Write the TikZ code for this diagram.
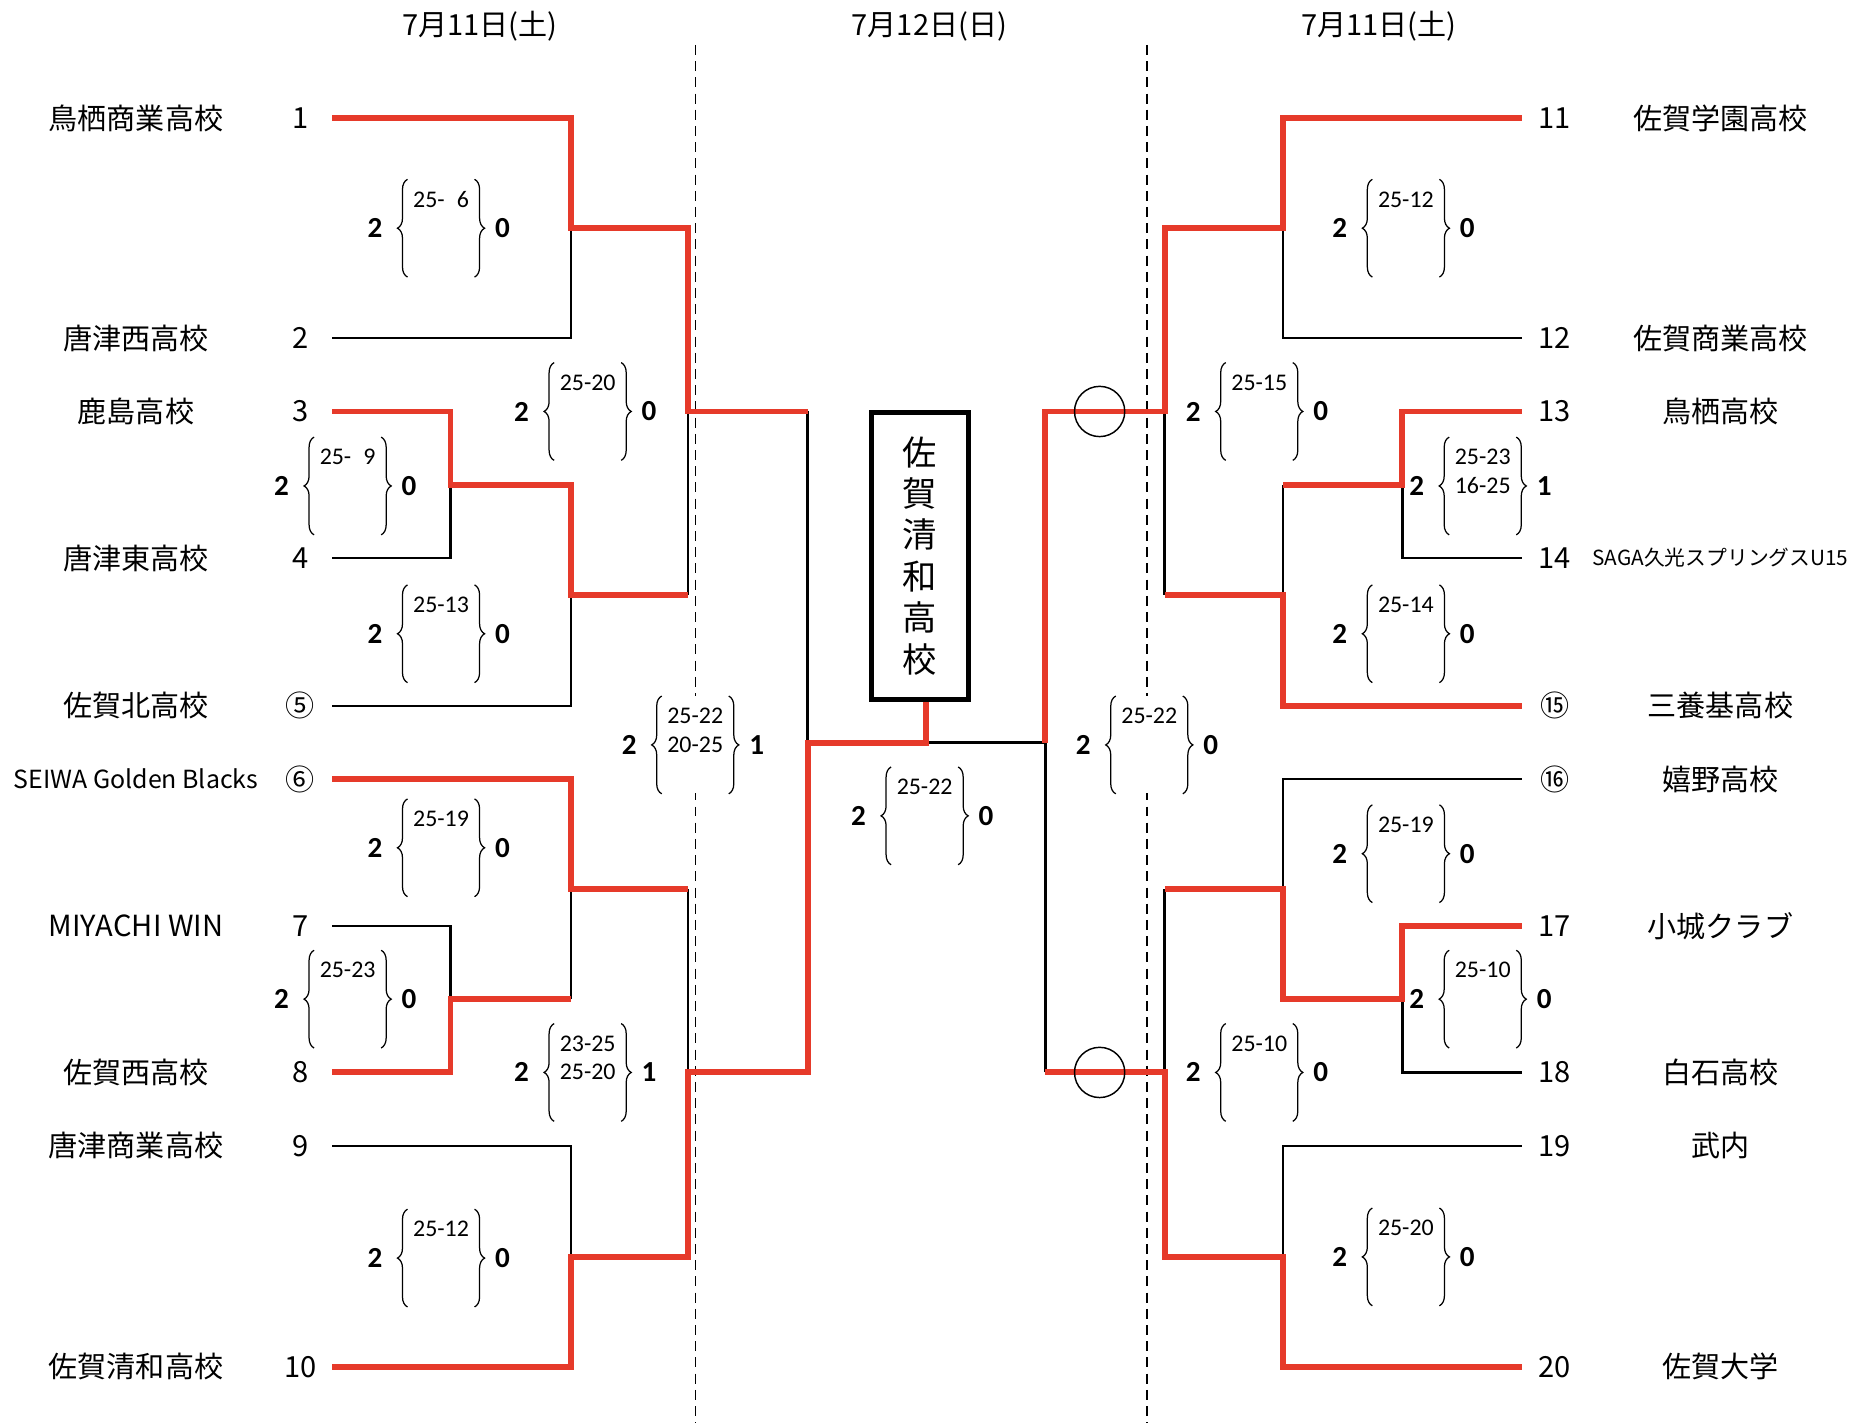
\documentclass[tikz,border=0pt]{standalone}
\usepackage{fontspec}
\setmainfont{Noto Sans CJK JP}
\newfontfamily\scorefont{Carlito}
\usetikzlibrary{positioning,decorations.pathreplacing}
\definecolor{winred}{HTML}{E63A2A}

% score block: name, centre, sets, games of winner, games of loser
\newcommand{\setscore}[5]{%
  \node[setbox] (#1) at (#2) {};
  \node[settext] (#1txt) at ([yshift=-0.2cm]#1.north) {#3};
  \draw[setbrace] (#1.south west) -- (#1.north west);
  \draw[setbrace] (#1.north east) -- (#1.south east);
  \node[setnum, left=0.42cm of #1.west] (#1w) {#4};
  \node[setnum, right=0.34cm of #1.east] (#1l) {#5};
}

\begin{document}
\begin{tikzpicture}[
  x=0.02cm, y=-0.02cm,
  team/.style={font=\fontsize{14}{16}\selectfont},
  seed/.style={font=\fontsize{14}{16}\selectfont},
  day/.style={font=\fontsize{14}{16}\selectfont},
  setbox/.style={rectangle, fill=white, minimum width=1.12cm, minimum height=1.64cm, inner sep=0},
  settext/.style={anchor=north, inner sep=0, align=center, font=\scorefont\fontsize{11.5}{13.66}\selectfont},
  setnum/.style={inner sep=0, font=\scorefont\bfseries\fontsize{14}{16}\selectfont},
  setbrace/.style={decorate, decoration={brace, amplitude=0.17cm}, line width=0.6pt},
  win/.style={winred, line width=0.1cm},
  lose/.style={black, line width=1.2pt},
  dayline/.style={black, line width=0.7pt, dash pattern=on 4.8pt off 3pt},
  champ/.style={rectangle, draw, line width=2.4pt, minimum width=1.64cm, minimum height=4.86cm,
                align=center, font=\fontsize{16.5}{19.9}\selectfont},
  okring/.style={circle, draw, line width=0.7pt, minimum size=0.85cm, inner sep=0},
]
\useasboundingbox (0,0) rectangle (1568,1203);

% --- Day headings and day borders ---
\node[day] (day1) at (406,22) {7月11日(土)};
\node[day] (day2) at (786,22) {7月12日(日)};
\node[day] (day3) at (1166,22) {7月11日(土)};
\coordinate (dL1) at (588,38);  \coordinate (dL2) at (588,1203);
\coordinate (dR1) at (970,38);  \coordinate (dR2) at (970,1203);
\draw[dayline] (dL1) -- (dL2);
\draw[dayline] (dR1) -- (dR2);

% --- Teams, left half ---
\foreach \n/\y/\sd/\nm in {1/100/1/鳥栖商業高校, 2/286/2/唐津西高校, 3/348/3/鹿島高校,
    4/472/4/唐津東高校, 5/597/⑤/佐賀北高校, 6/659/⑥/{\fontsize{12}{14}\selectfont SEIWA Golden Blacks},
    7/783/7/MIYACHI WIN, 8/907/8/佐賀西高校, 9/969/9/唐津商業高校, 10/1156/10/佐賀清和高校}{
  \node[team] (tm\n) at (115,\y) {\nm};
  \node[seed] (sd\n) at (254,\y) {\sd};
  \coordinate (t\n) at (281,\y);
}

% --- Teams, right half ---
\foreach \n/\y/\sd/\nm in {11/100/11/佐賀学園高校, 12/286/12/佐賀商業高校, 13/348/13/鳥栖高校,
    14/472/14/{\fontsize{10}{12}\selectfont SAGA久光スプリングスU15}, 15/597/⑮/三養基高校,
    16/659/⑯/嬉野高校, 17/783/17/小城クラブ, 18/907/18/白石高校, 19/969/19/武内, 20/1156/20/佐賀大学}{
  \node[team] (tm\n) at (1455,\y) {\nm};
  \node[seed] (sd\n) at (1315,\y) {\sd};
  \coordinate (t\n) at (1287,\y);
}

% --- Match junctions ---
\coordinate (jA) at (483,193);   \coordinate (jB) at (381,410);
\coordinate (jC) at (483,503);   \coordinate (jE) at (582,348);
\coordinate (jG) at (381,845);   \coordinate (j6) at (483,752);
\coordinate (jI) at (483,1063);  \coordinate (jH) at (582,907);
\coordinate (jL) at (683,628);
\coordinate (jP) at (1085,193);  \coordinate (jQ) at (1186,410);
\coordinate (jR) at (1085,503);  \coordinate (jS) at (985,348);
\coordinate (jT) at (1186,845);  \coordinate (jU) at (1085,752);
\coordinate (jV) at (1085,1063); \coordinate (jW) at (985,907);
\coordinate (jX) at (884,628);   \coordinate (fin) at (783,628);

% --- Scores ---
\setscore{sA}{373,193}{25-\hphantom{1}6}{2}{0}
\setscore{sB}{294,411}{25-\hphantom{1}9}{2}{0}
\setscore{sC}{373,536}{25-13}{2}{0}
\setscore{sE}{497,348}{25-20}{2}{0}
\setscore{s6}{373,717}{25-19}{2}{0}
\setscore{sG}{294,845}{25-23}{2}{0}
\setscore{sI}{373,1064}{25-12}{2}{0}
\setscore{sH}{497,907}{23-25\\25-20}{2}{1}
\setscore{sL}{588,630}{25-22\\20-25}{2}{1}
\setscore{sF}{782,690}{25-22}{2}{0}
\setscore{sX}{972,630}{25-22}{2}{0}
\setscore{sP}{1189,193}{25-12}{2}{0}
\setscore{sQ}{1254,411}{25-23\\16-25}{2}{1}
\setscore{sR}{1189,536}{25-14}{2}{0}
\setscore{sS}{1065,348}{25-15}{2}{0}
\setscore{sU}{1189,722}{25-19}{2}{0}
\setscore{sT}{1254,845}{25-10}{2}{0}
\setscore{sV}{1189,1063}{25-20}{2}{0}
\setscore{sW}{1065,907}{25-10}{2}{0}

% --- Champion ---
\node[champ] (champ) at (778,470) {佐\\賀\\清\\和\\高\\校};

% --- Losing lines (black) ---
\draw[lose] (t2) -| (jA);
\draw[lose] (t4) -| (jB);
\draw[lose] (t5) -| (jC);
\draw[lose] (jC -| jE) -- (jE);
\draw[lose] (t7) -| (jG);
\draw[lose] (jG -| j6) -- (j6);
\draw[lose] (t9) -| (jI);
\draw[lose] (j6 -| jH) -- (jH);
\draw[lose] (jE -| jL) -- (jL);
\draw[lose] (t12) -| (jP);
\draw[lose] (t14) -| (jQ);
\draw[lose] (jQ -| jR) -- (jR);
\draw[lose] (jR -| jS) -- (jS);
\draw[lose] (t18) -| (jT);
\draw[lose] (t16) -| (jU);
\draw[lose] (t19) -| (jV);
\draw[lose] (jU -| jW) -- (jW);
\draw[lose] (jW -| jX) -- (jX);
\draw[lose] (jX) -- (fin);

% --- Winning lines (red) ---
\draw[win] (t1) -| (jA) -| (jE) -- (jE -| jL);
\draw[win] (t3) -| (jB) -| (jC) -- (jC -| jE);
\draw[win] (t6) -| (j6) -- (j6 -| jH);
\draw[win] (t8) -| (jG) -- (jG -| j6);
\draw[win] (t10) -| (jI) -| (jH) -| (jL) -- (fin) -- (fin |- champ.south);
\draw[win] (t11) -| (jP) -| (jS) -| (jX);
\draw[win] (t13) -| (jQ) -- (jQ -| jR);
\draw[win] (t15) -| (jR) -- (jR -| jS);
\draw[win] (t17) -| (jT) -| (jU) -- (jU -| jW);
\draw[win] (t20) -| (jV) -| (jW) -- (jW -| jX);

% --- Marks on the right semi-final ---
\node[okring] (ring1) at (930,348) {};
\node[okring] (ring2) at (930,907) {};

\end{tikzpicture}
\end{document}
